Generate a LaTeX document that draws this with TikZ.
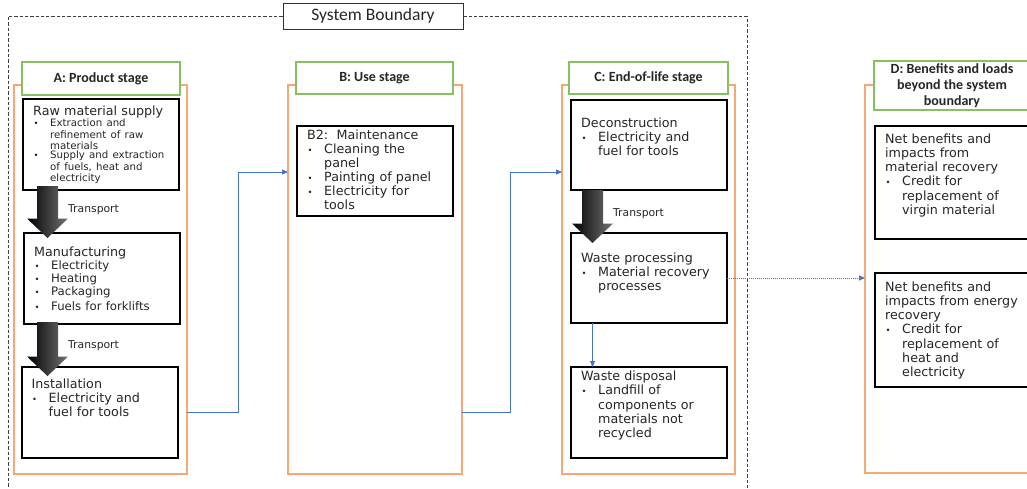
\documentclass[tikz,border=0pt]{standalone}
\usepackage{fontspec}
\setmainfont{DejaVu Sans}
\newfontfamily\hdrfont{Carlito}
\usetikzlibrary{arrows.meta,calc}

\definecolor{stageorange}{RGB}{245,168,115}
\definecolor{hdrgreen}{RGB}{135,192,95}
\definecolor{flowblue}{RGB}{68,114,196}
\definecolor{txtgray}{RGB}{38,38,38}

\newcommand{\bul}[1]{\par\noindent\makebox[17pt][l]{\hspace{0.5pt}{\fontsize{8.5}{8}\selectfont •}}%
  \parbox[t]{128pt}{\raggedright #1}}

% block arrow: name, start, tip
\newcommand{\transport}[3]{%
  \shade[left color=black, right color=black!55] ([xshift=-10.5pt]#2) -- ([xshift=10.5pt]#2)
    -- ([xshift=10.5pt,yshift=19.5pt]#3) -- ([xshift=20.5pt,yshift=19.5pt]#3) -- (#3)
    -- ([xshift=-20.5pt,yshift=19.5pt]#3) -- ([xshift=-10.5pt,yshift=19.5pt]#3) -- cycle;
  \node[trlbl, anchor=base west] (#1) at ([xshift=20.5pt,yshift=-26.5pt]#2) {Transport};}

\tikzset{
  stage/.style={draw=stageorange, line width=1.3pt, inner sep=0pt, outer sep=0pt, anchor=north west},
  hdr/.style={draw=hdrgreen, line width=1.1pt, fill=white, inner sep=0pt, outer sep=0pt, anchor=north west,
    align=center, text=txtgray, font=\hdrfont\bfseries\fontsize{14}{16}\selectfont},
  procbox/.style={draw=black, line width=1.6pt, fill=white, inner sep=0pt, outer sep=0pt, anchor=north west,
    minimum width=156pt},
  txt/.style={inner sep=0pt, text width=145pt, align=left, text=txtgray, anchor=base west,
    font=\fontsize{12.7}{14.3}\selectfont},
  trlbl/.style={inner sep=0pt, text=txtgray, font=\fontsize{10.8}{13}\selectfont},
  flow/.style={draw=flowblue, line width=1pt, -{Triangle[length=6pt,width=5pt]}},
  sysline/.style={draw=black!75, line width=0.9pt, dash pattern=on 3.3pt off 2pt}
}

\begin{document}
\begin{tikzpicture}[x=1pt, y=-1pt]
  \useasboundingbox (0,0) rectangle (1027,488);
  \clip (0,0) rectangle (1027,488);

  % system boundary
  \node[draw=black!80, line width=0.8pt, minimum width=180pt, minimum height=26pt, inner sep=0pt,
    text=txtgray, font=\hdrfont\fontsize{17.5}{20}\selectfont] (sysb) at (373,16) {System Boundary};
  \draw[sysline] (sysb.west) -| (8,488);
  \draw[sysline] (sysb.east) -| (747,488);

  % stages
  \node[stage, minimum width=173pt, minimum height=389pt] (stageA) at (14,85) {};
  \node[stage, minimum width=174pt, minimum height=389pt] (stageB) at (288,85) {};
  \node[stage, minimum width=173pt, minimum height=389pt] (stageC) at (562,85) {};
  \node[stage, minimum width=180pt, minimum height=388pt] (stageD) at (865,85) {};

  \node[hdr, minimum width=158pt, minimum height=33pt] (hdrA) at (22,62) {A: Product stage};
  \node[hdr, minimum width=157pt, minimum height=32pt] (hdrB) at (296,62) {B: Use stage};
  \node[hdr, minimum width=159pt, minimum height=32pt] (hdrC) at (569,62) {C: End-of-life stage};
  \node[hdr, minimum width=156pt, minimum height=49pt] (hdrD) at (874,61)
    {D: Benefits and loads\\beyond the system\\boundary};

  % boxes
  \node[procbox, minimum height=91pt] (raw) at (23,99) {};
  \node[procbox, minimum height=91pt] (manu) at (24,233) {};
  \node[procbox, minimum height=91pt] (instal) at (22,367) {};
  \node[procbox, minimum height=90pt] (maint) at (297,126) {};
  \node[procbox, minimum height=90pt] (decon) at (571,100) {};
  \node[procbox, minimum height=90pt] (wproc) at (571,233) {};
  \node[procbox, minimum height=91pt] (wdisp) at (571,367) {};
  \node[procbox, minimum width=170pt, minimum height=113pt] (net1) at (875,126) {};
  \node[procbox, minimum width=170pt, minimum height=114pt] (net2) at (875,273) {};

  % transport arrows
  \coordinate (t1a) at ([xshift=24.5pt,yshift=4pt]raw.south west);
  \coordinate (t1b) at ([xshift=23.5pt,yshift=-5pt]manu.north west);
  \coordinate (t2a) at ([xshift=23.5pt,yshift=2pt]manu.south west);
  \coordinate (t2b) at ([xshift=25.5pt,yshift=-9pt]instal.north west);
  \coordinate (t3a) at ([xshift=21.5pt]decon.south west);
  \coordinate (t3b) at ([xshift=21.5pt,yshift=-10pt]wproc.north west);
  \transport{tr1}{t1a}{t1b}
  \transport{tr2}{t2a}{t2b}
  \transport{tr3}{t3a}{t3b}

  % flows
  \draw[flow] (instal.east -| stageA.east) -- ++(51,0) |- ([yshift=107.5pt]stageB.west);
  \draw[flow] (instal.east -| stageB.east) -- ++(48,0) |- ([yshift=107.5pt]stageC.west);
  \draw[flow] ([xshift=-56.5pt]wproc.south) -- ([xshift=-56.5pt]wdisp.north);
  \draw[flow, densely dotted, line width=0.7pt] (wproc.east) -- (stageD.west |- wproc.east);

  % texts
  \node[txt] (rawtxt) at (33,115) {Raw material supply
    \fontsize{10.2}{11.6}\selectfont
    \bul{Extraction and\\refinement of raw\\materials}
    \bul{Supply and extraction\\of fuels, heat and\\electricity}};
  \node[txt] (manutxt) at (34,256.7) {Manufacturing
    \fontsize{11.7}{13}\selectfont
    \bul{Electricity}\bul{Heating}\bul{Packaging}\bul{Fuels for forklifts}};
  \node[txt] (instaltxt) at (31.5,388) {Installation
    \bul{Electricity and\\fuel for tools}};
  \node[txt] (mainttxt) at (307,139.3) {B2:\hspace{2pt} Maintenance
    \bul{Cleaning the\\panel}\bul{Painting of panel}\bul{Electricity for\\tools}};
  \node[txt] (decontxt) at (581,127) {Deconstruction
    \bul{Electricity and\\fuel for tools}};
  \node[txt] (wproctxt) at (581,262) {Waste processing
    \bul{Material recovery\\processes}};
  \node[txt] (wdisptxt) at (581,380.5) {Waste disposal
    \bul{Landfill of\\components or\\materials not\\recycled}};
  \node[txt] (net1txt) at (885,143) {Net benefits and\\impacts from\\material recovery
    \bul{Credit for\\replacement of\\virgin material}};
  \node[txt] (net2txt) at (885,291) {Net benefits and\\impacts from energy\\recovery
    \bul{Credit for\\replacement of\\heat and\\electricity}};
\end{tikzpicture}
\end{document}
